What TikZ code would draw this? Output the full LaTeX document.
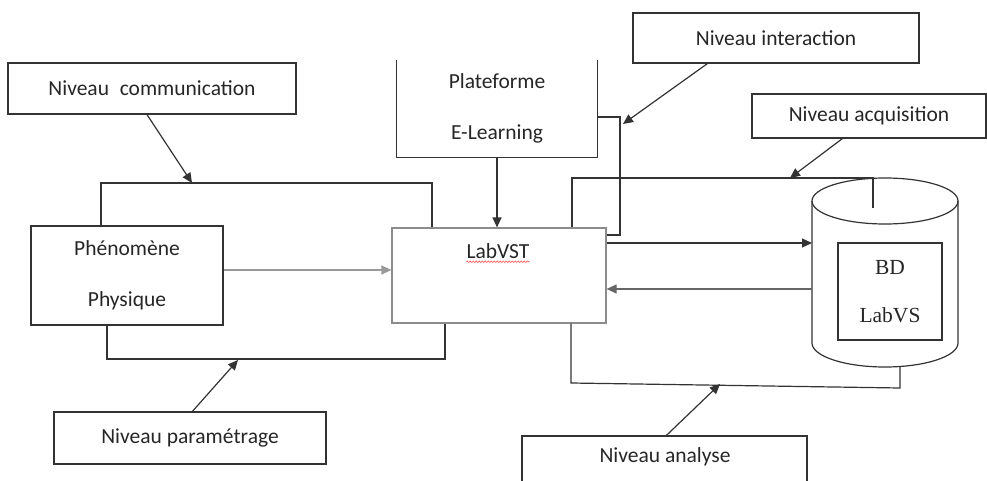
\documentclass[tikz,border=0pt]{standalone}
\usepackage{fontspec}
\setmainfont{Carlito}
\newfontfamily\serifdb{Liberation Serif}
\usetikzlibrary{arrows.meta,calc,decorations.pathmorphing}
\begin{document}
\begin{tikzpicture}[x=1pt,y=-1pt,
  line/.style={draw=black!80,line width=1.2pt},
  arr/.style={line,-{Triangle[length=10pt,width=9pt]}},
  box/.style={line,rectangle,inner sep=0pt,text=black!85,
    font=\fontsize{21.5}{26}\selectfont},
  lbl/.style={inner sep=0pt,text=black!85,font=\fontsize{21.5}{26}\selectfont}]
\useasboundingbox (0,0) rectangle (987,481);
\clip (0,0) rectangle (987,481);

% level boxes
\node[box,minimum width=288pt,minimum height=51pt] (comm) at (152,88.5) {Niveau\enspace communication};
\node[box,minimum width=286pt,minimum height=50pt] (inter) at (776,38) {Niveau interaction};
\node[box,minimum width=234pt,minimum height=44pt] (acq) at (869,116) {Niveau acquisition};
\node[box,minimum width=272pt,minimum height=52pt] (param) at (190,438) {Niveau paramétrage};
\node[box,minimum width=285pt,minimum height=64pt] (analyse) at (664.5,468) {};
\node[lbl] (analysetxt) at (665,457) {Niveau analyse};

% main blocks
\node[box,minimum width=192pt,minimum height=99pt,align=center] (phen) at (127,275.5)
  {Phénomène\\[25pt]Physique};
\node[box,draw=black!45,minimum width=214pt,minimum height=95pt] (labvst) at (499,275.5) {};
\node[lbl] (labvsttxt) at (498,251) {LabVST};
\draw[red!70,line width=0.6pt,decorate,decoration={snake,amplitude=0.8pt,segment length=3pt}]
  ($(labvsttxt.south west)+(0,3)$) -- ($(labvsttxt.south east)+(0,3)$);

% open-top platform block
\node[lbl,minimum width=200pt,minimum height=97pt,align=center] (plat) at (497,108.5)
  {Plateforme\\[25pt]E-Learning};
\draw[line] (plat.north west) -- (plat.south west) -- (plat.south east) -- (plat.north east);

% database cylinder
\coordinate (dbtop) at (885,201);
\coordinate (dbbot) at (885,343);
\draw[line] (dbtop) ellipse [x radius=73pt,y radius=23pt];
\draw[line] ($(dbtop)+(-73,0)$) -- ($(dbbot)+(-73,0)$)
  arc [start angle=180,end angle=360,x radius=73pt,y radius=24pt]
  -- ($(dbtop)+(73,0)$);
\coordinate (dbL) at (812,0);
\node[box,fill=white,minimum width=104pt,minimum height=97pt,align=center,font=\serifdb\fontsize{21.5}{26}\selectfont]
  (bd) at (890,291.5) {BD\\[22pt]LabVS};

% flows between blocks
\coordinate (yA) at (0,270);
\draw[line,draw=black!40,-{Triangle[length=10pt,width=9pt]}] (phen.east |- yA) -- (labvst.west |- yA);
\draw[arr] (plat.south) -- (plat.south |- labvst.north);
\coordinate (yB) at (0,243);
\coordinate (yC) at (0,289);
\draw[arr] (labvst.east |- yB) -- (dbL |- yB);
\draw[line,draw=black!60,-{Triangle[length=10pt,width=9pt]}] (dbL |- yC) -- (labvst.east |- yC);

% communication bracket
\coordinate (tl1) at (101,183);
\coordinate (tl2) at (432,183);
\draw[line] (tl1 |- phen.north) -- (tl1) -- (tl2) -- (tl2 |- labvst.north);
\coordinate (commtip) at (192,183);
\draw[arr] ($(comm.south)+(-5,0)$) -- (commtip);

% parametrage bracket
\coordinate (bl1) at (107,359);
\coordinate (bl2) at (445,359);
\draw[line] (bl1 |- phen.south) -- (bl1) -- (bl2) -- (bl2 |- labvst.south);
\coordinate (paramtip) at (238,360);
\draw[arr] ($(param.north west)+(139,0)$) -- (paramtip);

% interaction bracket
\coordinate (ri) at (620,117);
\coordinate (rb) at (0,235);
\draw[line] (plat.east |- ri) -- (ri) -- (ri |- rb) -- (labvst.east |- rb);
\coordinate (intertip) at (623,124);
\draw[arr] ($(inter.south west)+(75,0)$) -- (intertip);

% acquisition bracket
\coordinate (ar1) at (572,178);
\coordinate (ar2) at (873,178);
\coordinate (ar3) at (873,208);
\draw[line] (ar1 |- labvst.north) -- (ar1) -- (ar2) -- (ar3);
\coordinate (acqtip) at (790,178);
\draw[arr] ($(acq.south west)+(91,0)$) -- (acqtip);

% analyse bracket
\coordinate (an1) at (571,383);
\coordinate (an2) at (900,388);
\coordinate (an3) at (900,367);
\draw[line] (an1 |- labvst.south) -- (an1) -- (an2) -- (an3);
\coordinate (antip) at (720,384);
\draw[arr] ($(analyse.north west)+(145,0)$) -- (antip);
\end{tikzpicture}
\end{document}
